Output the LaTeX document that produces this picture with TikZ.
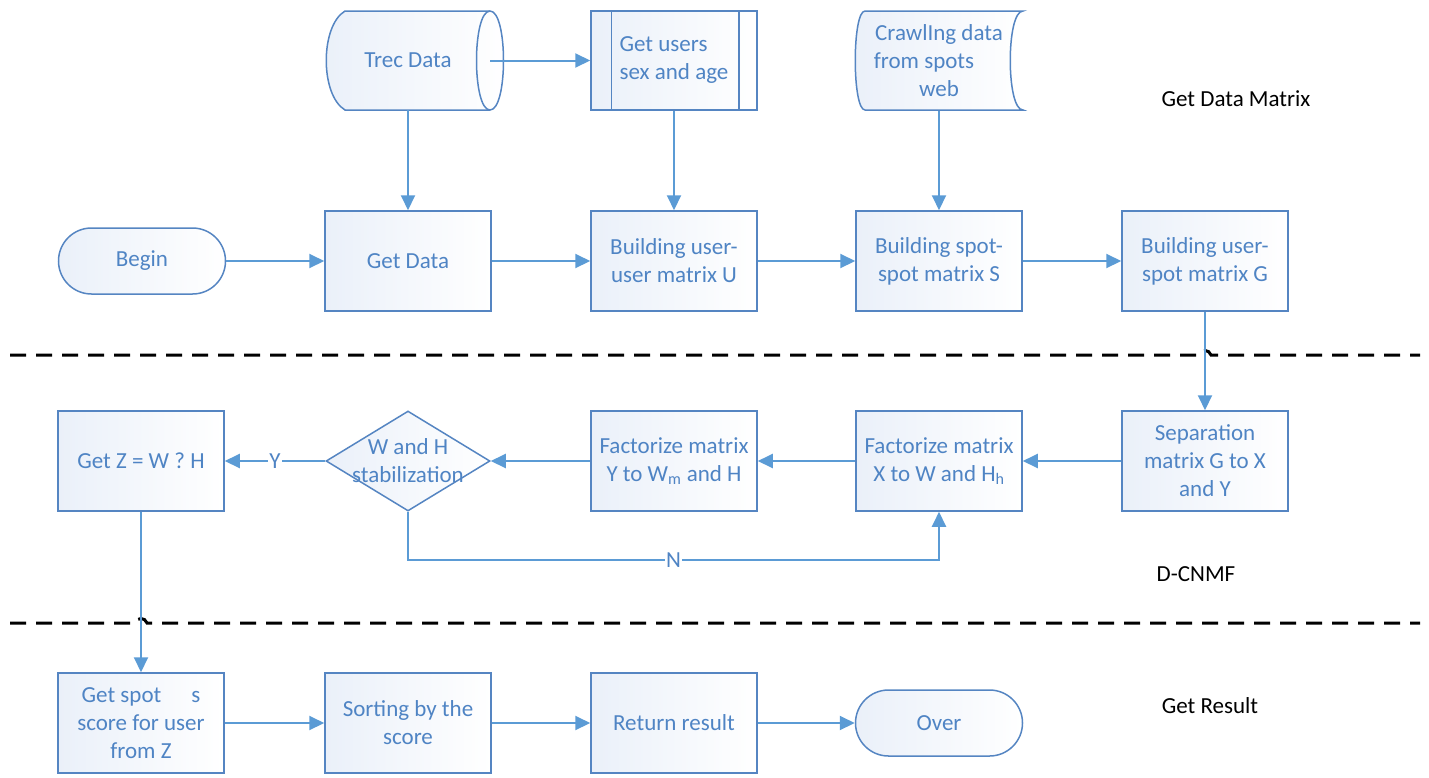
\documentclass[tikz,border=0pt]{standalone}
\usepackage{fontspec}
\setmainfont{Carlito}
\usetikzlibrary{arrows.meta,shapes.geometric}
\definecolor{txt}{HTML}{4F84C4}
\definecolor{edgec}{HTML}{5585C2}
\definecolor{arrc}{HTML}{5B9BD5}
\definecolor{fillc}{HTML}{EAF0F9}
\tikzset{
  base/.style={font=\fontsize{23}{28}\selectfont, text=txt},
  shadefill/.style={left color=fillc, right color=white},
  proc/.style={base, draw=edgec, line width=1.5pt, shadefill, minimum width=166pt, minimum height=100pt, inner sep=0pt, align=center},
  term/.style={proc, rounded corners=33pt, minimum height=66pt, minimum width=167pt},
  arr/.style={draw=arrc, line width=2pt, -{Triangle[length=15pt,width=14pt]}},
  lab/.style={font=\fontsize{23}{28}\selectfont, text=black},
  sepline/.style={black, line width=3pt, dash pattern=on 16pt off 10pt},
  edgeline/.style={draw=edgec, line width=1.5pt},
}
\begin{document}
\begin{tikzpicture}[x=1pt,y=-1pt]
\useasboundingbox (0,0) rectangle (1429,777);

% separators
\draw[sepline] (10,355) -- (1199,355) .. controls (1201,349) and (1209,349) .. (1211,355) -- (1420,355);
\draw[sepline] (10,623) -- (135,623) .. controls (137,617) and (145,617) .. (147,623) -- (1420,623);

% Trec Data (direct access storage)
\draw[edgeline, shadefill] (345,11) -- (490,11) .. controls (508,11) and (508,110) .. (490,110) -- (345,110) .. controls (320,95) and (320,26) .. (345,11) -- cycle;
\draw[edgeline] (490,11) .. controls (472,11) and (472,110) .. (490,110);
\node[base, minimum width=177pt, minimum height=99pt, inner sep=0pt] (trec) at (408,60.5) {Trec Data};

% Get users sex and age (predefined process)
\node[proc, minimum height=99pt, align=left] (users) at (674,60.5) {Get users\\sex and age};
\draw[edgeline] ([xshift=21pt]users.north west) -- ([xshift=21pt]users.south west);
\draw[edgeline] ([xshift=-19pt]users.north east) -- ([xshift=-19pt]users.south east);

% Crawling data (stored data)
\draw[edgeline, shadefill] (865,11) -- (1023,11) .. controls (1006,11) and (1006,110) .. (1023,110) -- (865,110) .. controls (852,110) and (852,11) .. (865,11) -- cycle;
\node[base, minimum width=160pt, minimum height=99pt, inner sep=0pt, align=center] (crawl) at (939,61) {CrawlIng data\\from spots\hphantom{xxx}\\web};

% row 1
\node[term] (begin) at (142,261) {Begin};
\node[proc] (getdata) at (408,261) {Get Data};
\node[proc] (bu) at (674,261) {Building user-\\user matrix U};
\node[proc] (bs) at (939,261) {Building spot-\\spot matrix S};
\node[proc] (bg) at (1205,261) {Building user-\\spot matrix G};

% row 2
\node[proc] (sepm) at (1205,461) {Separation\\matrix G to X\\and Y};
\node[proc] (fx) at (939,461) {Factorize matrix\\X to W and H\textsubscript{h}};
\node[proc] (fy) at (674,461) {Factorize matrix\\Y to W\textsubscript{m} and H};
\node[diamond, draw=edgec, line width=1.5pt, shadefill, minimum width=164pt, minimum height=100pt, inner sep=0pt,
      label={[base, align=center]center:{W and H\\stabilization}}] (dia) at (408,461) {};
\node[proc] (getz) at (141,461) {Get Z = W ? H};

% row 3
\node[proc] (spot) at (141,723) {Get spot\hspace{1.3em}s\\score for user\\from Z};
\node[proc] (sort) at (408,723) {Sorting by the\\score};
\node[proc] (ret) at (674,723) {Return result};
\node[term] (over) at (939,723) {Over};

% section labels
\node[lab] (l1) at (1236,99) {Get Data Matrix};
\node[lab] (l2) at (1196,574) {D-CNMF};
\node[lab] (l3) at (1210,706) {Get Result};

% connectors
\draw[arr] ([xshift=82pt]trec.center) -- (users.west);
\draw[arr] (trec.south) -- (getdata.north);
\draw[arr] (users.south) -- (bu.north);
\draw[arr] (crawl.south) -- (bs.north);
\draw[arr] (begin.east) -- (getdata.west);
\draw[arr] (getdata.east) -- (bu.west);
\draw[arr] (bu.east) -- (bs.west);
\draw[arr] (bs.east) -- (bg.west);
\draw[arr] (bg.south) -- (sepm.north);
\draw[arr] (sepm.west) -- (fx.east);
\draw[arr] (fx.west) -- (fy.east);
\draw[arr] (fy.west) -- (dia.east);
\draw[arr] (dia.west) -- node[base, fill=white, inner sep=1pt] {Y} (getz.east);
\coordinate (nl) at (408,560);
\coordinate (nr) at (939,560);
\draw[arr] (dia.south) -- (nl) -- node[base, fill=white, inner sep=1pt] {N} (nr) -- (fx.south);
\draw[arr] (getz.south) -- (spot.north);
\draw[arr] (spot.east) -- (sort.west);
\draw[arr] (sort.east) -- (ret.west);
\draw[arr] (ret.east) -- (over.west);
\end{tikzpicture}
\end{document}
